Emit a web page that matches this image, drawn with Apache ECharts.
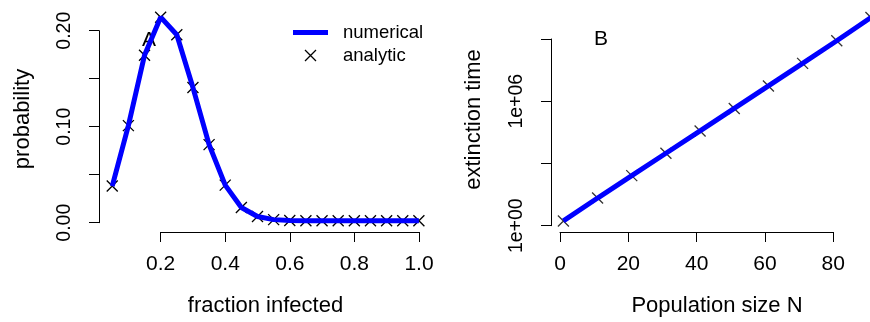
<!DOCTYPE html>
<html><head><meta charset="utf-8">
<script src="https://cdn.jsdelivr.net/npm/echarts@6/dist/echarts.min.js"></script>
<style>html,body{margin:0;padding:0;background:#fff;overflow:hidden}#c{width:900px;height:322px}</style>
</head><body><div id="c"></div>
<script>
// Panel A data
const fractionInfected = [0.05,0.10,0.15,0.20,0.25,0.30,0.35,0.40,0.45,0.50,0.55,0.60,0.65,0.70,0.75,0.80,0.85,0.90,0.95,1.00];
const numericalA = [0.0365,0.100,0.174,0.214,0.1955,0.140,0.080,0.0375,0.014,0.0045,0.0012,0.0002,0,0,0,0,0,0,0,0];
const analyticA  = [0.0365,0.100,0.174,0.214,0.1955,0.140,0.080,0.0375,0.014,0.0045,0.0012,0.0002,0,0,0,0,0,0,0,0];
// Panel B data
const populationN = [1,11,21,31,41,51,61,71,81,91];
const numericalB = [1.3,17,210,2600,32000,400000,5.0e6,6.3e7,8.0e8,1.1e10];
const analyticB  = [1.3,17,210,2600,32000,400000,5.0e6,6.3e7,8.0e8,1.1e10];
// Tick labels
const xTicksA = [0.2,0.4,0.6,0.8,1.0];
const yTickLabelsA = {0:'0.00',0.1:'0.10',0.2:'0.20'};
const xTicksB = [0,20,40,60,80];
const yTickLabelsB = {0:'1e+00',6:'1e+06'}; // exponent -> label
const seriesNames = ['numerical','analytic'];

const FONT = "'Liberation Sans', Arial, Helvetica, sans-serif";
const BLUE = '#0000ff';
const CROSS = 'path://M0,0L10,10M10,0L0,10';
const LEGEND_LINE = 'path://M0,0L35,0L35,5L0,5Z';
const black = {color:'#000', width:1};

function hiddenAxis(extra){
  return Object.assign({type:'value', axisLine:{show:false}, axisTick:{show:false},
    axisLabel:{show:false}, splitLine:{show:false},
    nameTextStyle:{color:'#000', fontSize:22, fontFamily:FONT}}, extra);
}
function decoAxis(extra){
  return Object.assign({type:'value', axisLine:{show:true, onZero:false, lineStyle:black},
    axisTick:{show:true, length:10, lineStyle:black}, splitLine:{show:false}}, extra);
}
function off(gridIndex){ return {type:'value', gridIndex, show:false, min:0, max:1}; }

const chart = echarts.init(document.getElementById('c'), null, {renderer:'canvas'});
chart.setOption({
  animation:false,
  textStyle:{fontFamily:FONT},
  grid:[
    {left:100, top:9, width:331, height:222},
    {left:160.7, top:9, width:258.3, height:223},
    {left:99, top:30.7, width:100, height:192},
    {left:551, top:10, width:332, height:221.5},
    {left:560, top:10, width:273.3, height:222},
    {left:551, top:39, width:100, height:186.7}
  ],
  xAxis:[
    hiddenAxis({gridIndex:0, min:0.0121, max:1.0375, name:'fraction infected', nameLocation:'middle', nameGap:66}),
    decoAxis({gridIndex:1, min:0.2, max:1.0, interval:0.2,
      axisLabel:{margin:22, color:'#000', fontSize:21, fontFamily:FONT,
        formatter:v=>{const t=xTicksA.find(x=>Math.abs(x-v)<1e-9);return t===undefined?'':t.toFixed(1);}}}),
    off(2),
    hiddenAxis({gridIndex:3, min:-2.634, max:94.53, name:'Population size N', nameLocation:'middle', nameGap:66}),
    decoAxis({gridIndex:4, min:0, max:80, interval:20,
      axisLabel:{margin:22, color:'#000', fontSize:21, fontFamily:FONT,
        formatter:v=>xTicksB.includes(v)?String(v):''}}),
    off(5)
  ],
  yAxis:[
    hiddenAxis({gridIndex:0, min:-0.00865, max:0.2226, name:'probability', nameLocation:'middle', nameRotate:90, nameGap:66}),
    off(1),
    decoAxis({gridIndex:2, min:0, max:0.2, interval:0.05,
      axisLabel:{margin:24, rotate:90, color:'#000', fontSize:19.5, fontFamily:FONT,
        formatter:v=>{const k=Object.keys(yTickLabelsA).find(x=>Math.abs(+x-v)<1e-9);return k===undefined?'':yTickLabelsA[k];}}}),
    hiddenAxis({gridIndex:3, type:'log', logBase:10, min:0.5248, max:2.54e10, name:'extinction time', nameLocation:'middle', nameRotate:90, nameGap:66}),
    off(4),
    decoAxis({gridIndex:5, min:0, max:9, interval:3,
      axisLabel:{margin:24, rotate:90, color:'#000', fontSize:19.5, fontFamily:FONT,
        formatter:v=>yTickLabelsB[v]||''}})
  ],
  legend:{
    orient:'vertical', left:288, top:18, itemWidth:35, itemHeight:11, itemGap:4,
    textStyle:{color:'#000', fontSize:18.5, fontFamily:FONT, padding:[0,0,0,10]},
    data:[
      {name:seriesNames[0], icon:LEGEND_LINE, itemStyle:{color:BLUE, borderWidth:0}},
      {name:seriesNames[1], icon:CROSS, itemStyle:{color:'none', borderColor:'#000', borderWidth:1.3}}
    ]
  },
  series:[
    {name:seriesNames[0], type:'line', xAxisIndex:0, yAxisIndex:0, symbol:'none',
      lineStyle:{color:BLUE, width:5}, itemStyle:{color:BLUE},
      data:fractionInfected.map((x,i)=>[x,numericalA[i]])},
    {name:seriesNames[1], type:'scatter', xAxisIndex:0, yAxisIndex:0, symbol:CROSS, symbolSize:11,
      itemStyle:{color:'none', borderColor:'#000', borderWidth:1.3, opacity:1},
      data:fractionInfected.map((x,i)=>[x,analyticA[i]])},
    {name:'numericalB', type:'line', xAxisIndex:3, yAxisIndex:3, symbol:'none',
      lineStyle:{color:BLUE, width:5},
      data:populationN.map((x,i)=>[x,numericalB[i]])},
    {name:'analyticB', type:'scatter', xAxisIndex:3, yAxisIndex:3, symbol:CROSS, symbolSize:11,
      itemStyle:{color:'none', borderColor:'#000', borderWidth:1.3},
      data:populationN.map((x,i)=>[x,analyticB[i]])}
  ],
  graphic:[
    {type:'text', left:142, top:30, style:{text:'A', fontSize:21, fontFamily:FONT, fill:'#000'}},
    {type:'text', left:594, top:29, style:{text:'B', fontSize:21, fontFamily:FONT, fill:'#000'}}
  ]
});
</script></body></html>
